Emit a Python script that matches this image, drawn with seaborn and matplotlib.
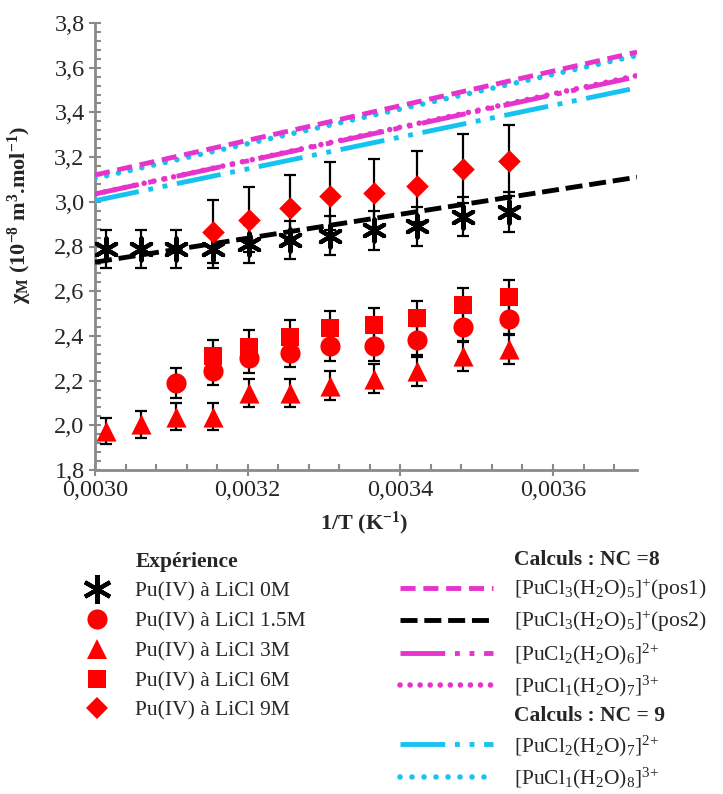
import matplotlib
matplotlib.use("Agg")
import matplotlib.pyplot as plt
from matplotlib.lines import Line2D
from matplotlib.patches import Rectangle
from matplotlib.ticker import MultipleLocator, FuncFormatter
import seaborn as sns

# ---------------------------------------------------------------------------
# Data
# ---------------------------------------------------------------------------
inv_T = [0.003014, 0.003060, 0.003106, 0.003154, 0.003202, 0.003255,
         0.003308, 0.003366, 0.003422, 0.003482, 0.003542]

# chi_M in 1e-8 m3/mol, with error bars
chi_0M = [2.788, 2.788, 2.788, 2.788, 2.810, 2.830, 2.848, 2.872, 2.890, 2.933, 2.954]
err_0M = [0.085, 0.085, 0.085, 0.085, 0.085, 0.085, 0.087, 0.087, 0.087, 0.088, 0.090]

chi_15M = [2.190, 2.245, 2.300, 2.325, 2.354, 2.355, 2.380, 2.440, 2.475]
err_15M = [0.066, 0.066, 0.066, 0.066, 0.066, 0.066, 0.066, 0.066, 0.066]

chi_3M = [1.973, 2.004, 2.039, 2.039, 2.143, 2.143, 2.176, 2.209, 2.242, 2.310, 2.340]
err_3M = [0.058, 0.060, 0.060, 0.060, 0.063, 0.063, 0.065, 0.065, 0.065, 0.065, 0.065]

chi_6M = [2.310, 2.352, 2.394, 2.437, 2.448, 2.479, 2.539, 2.572]
err_6M = [0.072, 0.075, 0.075, 0.075, 0.075, 0.075, 0.075, 0.079]

chi_9M = [2.867, 2.919, 2.972, 3.024, 3.039, 3.069, 3.148, 3.184]
err_9M = [0.142, 0.145, 0.149, 0.152, 0.152, 0.160, 0.155, 0.158]

# calculated straight lines, values at both ends of the x axis
calc_x = [0.0030, 0.00371]
calc_pos1 = [3.120, 3.670]
calc_pos2 = [2.730, 3.110]
calc_cl2_nc8 = [3.035, 3.560]
calc_cl1_nc8 = [3.035, 3.565]
calc_cl2_nc9 = [3.005, 3.510]
calc_cl1_nc9 = [3.105, 3.655]

exp_labels = ["Pu(IV) à LiCl 0M", "Pu(IV) à LiCl 1.5M", "Pu(IV) à LiCl 3M",
              "Pu(IV) à LiCl 6M", "Pu(IV) à LiCl 9M"]
calc_labels = [r"[PuCl$_3$(H$_2$O)$_5$]$^{{+}}$(pos1)",
               r"[PuCl$_3$(H$_2$O)$_5$]$^{{+}}$(pos2)",
               r"[PuCl$_2$(H$_2$O)$_6$]$^{2{+}}$",
               r"[PuCl$_1$(H$_2$O)$_7$]$^{3{+}}$",
               r"[PuCl$_2$(H$_2$O)$_7$]$^{2{+}}$",
               r"[PuCl$_1$(H$_2$O)$_8$]$^{3{+}}$"]

# ---------------------------------------------------------------------------
# Style
# ---------------------------------------------------------------------------
sns.set_style("ticks")
plt.rcParams["font.family"] = ["Liberation Serif", "DejaVu Serif"]
plt.rcParams["mathtext.fontset"] = "custom"
plt.rcParams["mathtext.rm"] = "Liberation Serif"
plt.rcParams["mathtext.it"] = "Liberation Serif:italic"
plt.rcParams["mathtext.bf"] = "Liberation Serif:bold"
plt.rcParams["mathtext.default"] = "regular"

RED = "#FF0000"
MAGENTA = "#E633CC"
CYAN = "#16C3F0"
GREY = "#8A8A8A"

LW = 3.5
LW_DOT = 4.0
dash_pos1 = (3.1, 1.6)
dash_pos2 = (3.5, 1.4)
dash_dd = (9.2, 2.0, 1.0, 2.0, 1.0, 2.0)
dot_mag = (0.01, 1.8)
dot_cyan = (0.01, 2.15)

fig = plt.figure(figsize=(7.23, 7.94), dpi=100)
ax = fig.add_axes([95 / 723, 1 - 470 / 794, 542 / 723, 447 / 794])

# ---------------------------------------------------------------------------
# Calculated lines
# ---------------------------------------------------------------------------
line_specs = [
    (calc_cl2_nc9, CYAN, dash_dd, "butt", LW),
    (calc_cl1_nc9, CYAN, dot_cyan, "round", LW_DOT),
    (calc_cl1_nc8, MAGENTA, dot_mag, "round", LW_DOT),
    (calc_cl2_nc8, MAGENTA, dash_dd, "butt", LW),
    (calc_pos1, MAGENTA, dash_pos1, "butt", LW),
    (calc_pos2, "black", dash_pos2, "butt", LW),
]
for vals, col, dashes, cap, lw in line_specs:
    sns.lineplot(x=calc_x, y=vals, color=col, lw=lw, ax=ax, zorder=3)
    ln = ax.lines[-1]
    ln.set_linestyle((0, dashes))
    ln.set_dash_capstyle(cap)

# ---------------------------------------------------------------------------
# Experimental points with error bars
# ---------------------------------------------------------------------------
STAR = (6, 2, 0)
exp_specs = [
    (inv_T, chi_0M, err_0M, STAR, "black", 16),
    (inv_T[2:], chi_15M, err_15M, "o", RED, 14.5),
    (inv_T, chi_3M, err_3M, "^", RED, 14.5),
    (inv_T[3:], chi_6M, err_6M, "s", RED, 13.5),
    (inv_T[3:], chi_9M, err_9M, "D", RED, 11.5),
]
for xs, ys, es, mk, col, ms in exp_specs:
    ax.errorbar(xs, ys, yerr=es, fmt="none", ecolor="black", elinewidth=1.6,
                capsize=4.3, capthick=1.6, zorder=2)
for xs, ys, es, mk, col, ms in exp_specs:
    if mk == STAR:
        sns.scatterplot(x=xs, y=ys, marker=mk, s=ms ** 2, color=col,
                        edgecolor=col, linewidth=3.0, ax=ax, zorder=4)
    else:
        sns.scatterplot(x=xs, y=ys, marker=mk, s=ms ** 2, color=col,
                        linewidth=0, ax=ax, zorder=4)

# ---------------------------------------------------------------------------
# Axes
# ---------------------------------------------------------------------------
ax.set_xlim(0.0030, 0.00371)
ax.set_ylim(1.8, 3.8)
ax.xaxis.set_major_locator(MultipleLocator(0.0002))
ax.xaxis.set_minor_locator(MultipleLocator(0.00004))
ax.yaxis.set_major_locator(MultipleLocator(0.2))
ax.yaxis.set_minor_locator(MultipleLocator(0.04))
ax.xaxis.set_major_formatter(FuncFormatter(lambda v, p: f"{v:.4f}".replace(".", ",")))
ax.yaxis.set_major_formatter(FuncFormatter(lambda v, p: f"{v:.1f}".replace(".", ",")))

sns.despine(ax=ax)
for side in ["left", "bottom"]:
    ax.spines[side].set_color(GREY)
    ax.spines[side].set_linewidth(2.0)
ax.tick_params(which="major", direction="inout", length=9, width=1.5,
               color=GREY, labelsize=17.5, pad=3)
ax.tick_params(which="minor", direction="in", length=4, width=1.5, color=GREY)

ax.set_xlabel(r"1/T (K$^{-1}$)", fontsize=16, fontweight="bold")
ax.set_ylabel(r"χ$_M$ (10$^{-8}$ m$^3$.mol$^{-1}$)", fontsize=16, fontweight="bold")
ax.xaxis.set_label_coords(0.496, -0.088)
ax.yaxis.set_label_coords(-0.112, 0.57)

# ---------------------------------------------------------------------------
# Legends below the plot
# ---------------------------------------------------------------------------
blank = Rectangle((0, 0), 1, 1, visible=False)
exp_handles = [blank]
for xs, ys, es, mk, col, ms in exp_specs:
    if mk == STAR:
        exp_handles.append(Line2D([], [], linestyle="none", marker=mk, markersize=ms * 1.3,
                                  color=col, markeredgewidth=3))
    else:
        exp_handles.append(Line2D([], [], linestyle="none", marker=mk, markersize=ms,
                                  color=col, markeredgewidth=0))
leg1 = fig.legend(exp_handles, ["Expérience"] + exp_labels, loc="upper left",
                  bbox_to_anchor=(75 / 723, 1 - 552 / 794), frameon=False,
                  fontsize=15.5, handlelength=2.0, handletextpad=0.8,
                  labelspacing=0.45, borderpad=0, borderaxespad=0)
leg1.get_texts()[0].set_fontweight("bold")


def line_handle(col, dashes, cap, lw=LW):
    return Line2D([], [], color=col, lw=lw, linestyle=(0, dashes),
                  dash_capstyle=cap)


calc_handles = [blank,
                line_handle(MAGENTA, dash_pos1, "butt"),
                line_handle("black", dash_pos2, "butt"),
                line_handle(MAGENTA, dash_dd, "butt"),
                line_handle(MAGENTA, dot_mag, "round", LW_DOT),
                blank,
                line_handle(CYAN, dash_dd, "butt"),
                line_handle(CYAN, dot_cyan, "round", LW_DOT)]
calc_text = (["Calculs : NC =8"] + calc_labels[:4] + ["Calculs : NC = 9"]
             + calc_labels[4:])
leg2 = fig.legend(calc_handles, calc_text, loc="upper left",
                  bbox_to_anchor=(400 / 723, 1 - 550 / 794), frameon=False,
                  fontsize=15.5, handlelength=4.3, handletextpad=1.0,
                  labelspacing=0.33, borderpad=0, borderaxespad=0)
leg2.get_texts()[0].set_fontweight("bold")
leg2.get_texts()[5].set_fontweight("bold")

fig.savefig("out.png", dpi=100)
